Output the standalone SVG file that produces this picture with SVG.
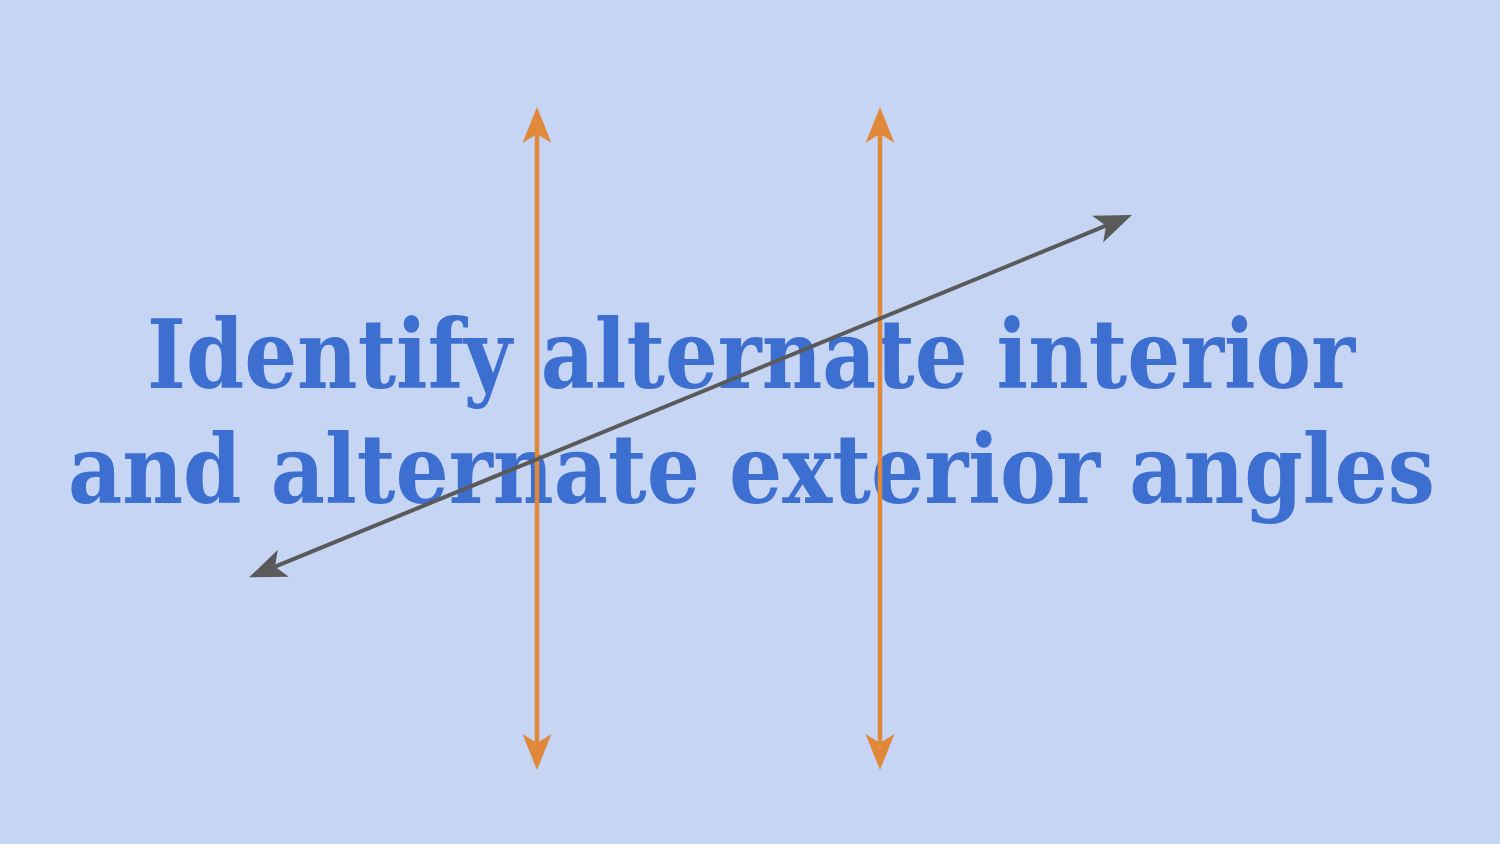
<svg xmlns="http://www.w3.org/2000/svg" width="1500" height="844" viewBox="0 0 1500 844">
  <style>
    .title { font-family: "DejaVu Serif", "Liberation Serif", serif; font-weight: bold; font-size: 96px; fill: #3d6fd1; }
    .orange { stroke: #e0893a; stroke-width: 4.5; fill: none; }
    .gray { stroke: #5a5a5a; stroke-width: 4; fill: none; }
  </style>
  <defs>
    <marker id="arrOrange" markerUnits="userSpaceOnUse" markerWidth="40" markerHeight="32" viewBox="-10 -16 40 32" refX="0" refY="0" orient="auto-start-reverse" overflow="visible">
      <path d="M27,0 L-9,-14.5 L0,0 L-9,14.5 Z" fill="#e0893a"/>
    </marker>
    <marker id="arrGray" markerUnits="userSpaceOnUse" markerWidth="40" markerHeight="32" viewBox="-10 -16 40 32" refX="0" refY="0" orient="auto-start-reverse" overflow="visible">
      <path d="M28,0 L-9,-14.5 L0,0 L-9,14.5 Z" fill="#5a5a5a"/>
    </marker>
  </defs>
  <rect width="1500" height="844" fill="#c6d5f4"/>
  <g id="title">
    <text class="title" x="147" y="388" textLength="1208" lengthAdjust="spacingAndGlyphs">Identify alternate interior</text>
    <text class="title" x="68" y="503" textLength="1367" lengthAdjust="spacingAndGlyphs">and alternate exterior angles</text>
  </g>
  <g id="connectors">
    <line id="line-left" class="orange" x1="537" y1="134" x2="537" y2="743" marker-start="url(#arrOrange)" marker-end="url(#arrOrange)"/>
    <line id="line-right" class="orange" x1="880" y1="134" x2="880" y2="743" marker-start="url(#arrOrange)" marker-end="url(#arrOrange)"/>
    <line id="transversal" class="gray" x1="275" y1="566.7" x2="1106" y2="225.7" marker-start="url(#arrGray)" marker-end="url(#arrGray)"/>
  </g>
</svg>
